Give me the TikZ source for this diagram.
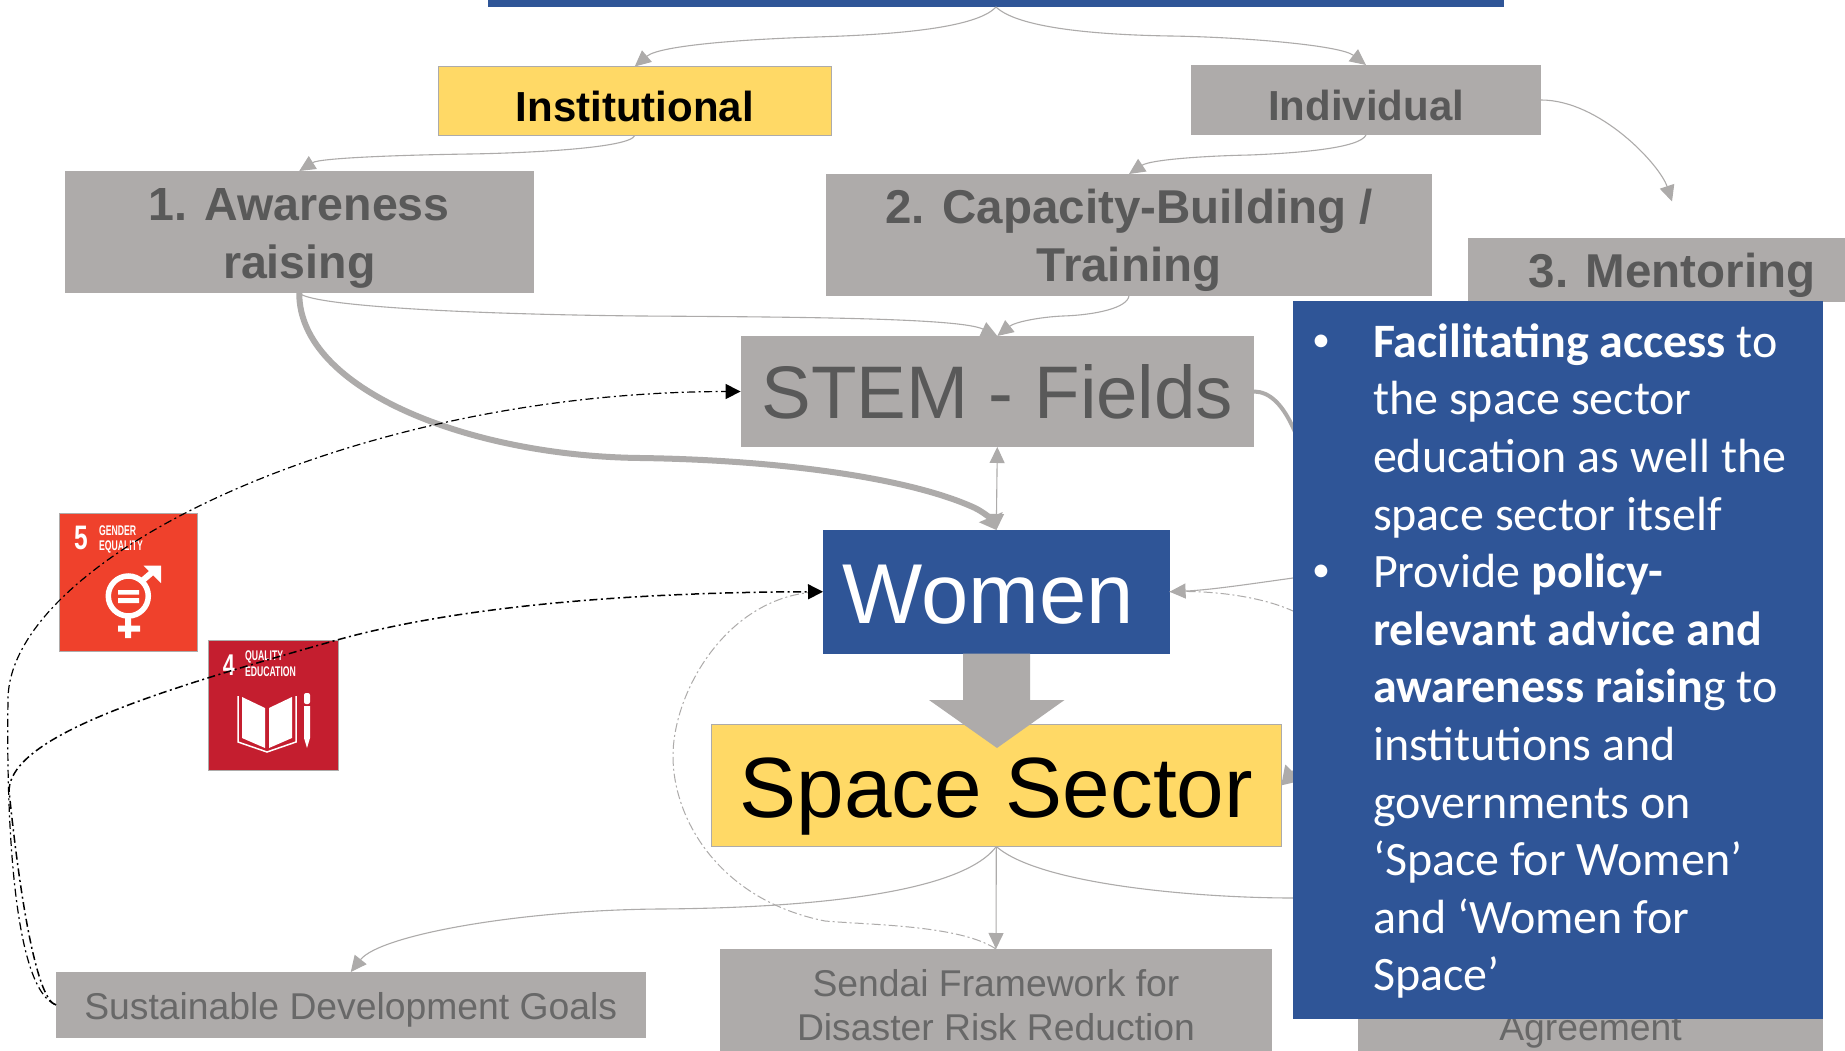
\documentclass[tikz,border=0pt]{standalone}
\usepackage{fontspec}
\setmainfont{Liberation Sans}
\newfontfamily\panelfont{Carlito}
\usetikzlibrary{arrows.meta}
\definecolor{greyfill}{HTML}{AEABAA}
\definecolor{greyline}{HTML}{ADABAA}
\definecolor{greytext}{HTML}{595959}
\definecolor{softtext}{HTML}{686868}
\definecolor{bluefill}{HTML}{2F5597}
\definecolor{yellowfill}{HTML}{FFD966}
\definecolor{sdgred}{HTML}{EF412C}
\definecolor{sdgcrimson}{HTML}{C41E2F}
\newcommand{\fsz}[2]{\fontsize{#1}{#2}\selectfont}
\newcommand{\tall}[1]{\rule{0pt}{#1pt}}
\tikzset{
  basebox/.style={rectangle,inner sep=0pt,outer sep=0pt,align=center},
  greybox/.style={basebox,fill=greyfill,text=greytext},
  softbox/.style={basebox,fill=greyfill,text=softtext,font=\fsz{37.3}{44.5}},
  headbox/.style={basebox,fill=greyfill,text=greytext,font=\fsz{47.5}{57.5}\bfseries},
  yellowbox/.style={basebox,fill=yellowfill,draw=greyline,line width=1pt,text=black},
  bluebox/.style={basebox,fill=bluefill,text=white},
  icon/.style={basebox,draw=greyline,line width=1pt},
  icontext/.style={inner sep=0pt,outer sep=0pt,text=white,font=\bfseries},
  thinlink/.style={draw=greyline,line width=1.1pt,-{Triangle[length=16pt,width=15pt]}},
  thicklink/.style={draw=greyline,line width=6pt,-{Triangle[length=14pt,width=25pt]}},
  midlink/.style={draw=greyline,line width=4pt,-{Triangle[length=18pt,width=22pt]}},
  dashdot/.style={dash pattern=on 8pt off 3.5pt on 2pt off 3.5pt},
  blacklink/.style={draw=black,line width=1.2pt,dashdot,-{Triangle[length=15pt,width=15pt]}},
  greydash/.style={draw=greyline,line width=1pt,dash pattern=on 9pt off 3pt on 2pt off 3pt},
}
\begin{document}
\begin{tikzpicture}[x=1pt,y=-1pt]
\useasboundingbox (0,0) rectangle (1845,1051);
\clip (0,0) rectangle (1845,1051);
\fill[white] (0,0) rectangle (1845,1051);

% boxes
\node[bluebox,minimum width=1016pt,minimum height=17pt] (topbar) at (996,-1.5) {};
\node[yellowbox,minimum width=392.5pt,minimum height=69pt,font=\fsz{42}{50}\bfseries] (inst) at (634.75,101) {\tall{41}Institutional};
\node[headbox,minimum width=350pt,minimum height=70pt,font=\fsz{42}{50}\bfseries] (indiv) at (1366,100) {\tall{41}Individual};
\node[headbox,minimum width=468.5pt,minimum height=122pt,font=\fsz{46.5}{57.5}\bfseries] (aware) at (299.25,232) {\tall{45.3}1. Awareness\\raising};
\node[headbox,minimum width=606pt,minimum height=121.5pt] (capa) at (1129,234.75) {\tall{46}2. Capacity-Building /\\Training};
\node[headbox,minimum width=409pt,minimum height=63.5pt] (mentor) at (1672,269.75) {\tall{46}3. Mentoring};
\node[greybox,minimum width=513.4pt,minimum height=111pt,font=\fsz{74.5}{80}] (stem) at (997.3,391.5) {\tall{55}STEM - Fields};
\node[bluebox,minimum width=346.6pt,minimum height=123.5pt,font=\fsz{85}{90}] (women) at (996.3,591.75) {\tall{65}Women\hspace{16pt}};
\node[yellowbox,minimum width=569.6pt,minimum height=122pt,font=\fsz{85.5}{90}] (space) at (996.3,785.5) {\tall{81}Space Sector};
\node[softbox,minimum width=589.5pt,minimum height=65.6pt] (sdg) at (350.75,1004.8) {\tall{36.4}Sustainable Development Goals};
\node[softbox,minimum width=552pt,minimum height=112pt] (sendai) at (996,1005) {Sendai Framework for\\Disaster Risk Reduction};
\node[softbox,minimum width=465pt,minimum height=94pt] (paris) at (1590.5,1032) {Agreement};

% icons
\node[icon,fill=sdgred,minimum width=138pt,minimum height=137.5pt] (sdgfive) at (128.5,582.25) {};
\node[icontext,font=\fsz{34}{34}\bfseries] (fivenum) at (81,538) {\scalebox{0.72}[1]{5}};
\node[icontext,font=\fsz{14}{14}\bfseries,anchor=west] (fivea) at (99,531) {\scalebox{0.62}[1]{GENDER}};
\node[icontext,font=\fsz{14}{14}\bfseries,anchor=west] (fiveb) at (99,547) {\scalebox{0.62}[1]{EQUALITY}};
\draw[white,line width=5.5pt] (128.3,596) circle (20pt);
\fill[white] (118,590) rectangle (139,594.5) (118,598) rectangle (139,603);
\draw[white,line width=6pt] (128,617) -- (128,638) (118,628.5) -- (140,628.5) (142,581) -- (156,569);
\fill[white] (143.5,565.5) -- (161,565.5) -- (161,583) -- cycle;

\node[icon,fill=sdgcrimson,minimum width=130pt,minimum height=130.5pt] (sdgfour) at (273.5,705.25) {};
\node[icontext,font=\fsz{30}{30}\bfseries] (fournum) at (229,665) {\scalebox{0.72}[1]{4}};
\node[icontext,font=\fsz{14}{14}\bfseries,anchor=west] (foura) at (245,656.5) {\scalebox{0.62}[1]{QUALITY}};
\node[icontext,font=\fsz{14}{14}\bfseries,anchor=west] (fourb) at (245,672) {\scalebox{0.62}[1]{EDUCATION}};
\fill[white] (242,697) -- (265,708) -- (265,748) -- (242,738) -- cycle;
\fill[white] (269,708) -- (292,697) -- (292,738) -- (269,748) -- cycle;
\draw[white,line width=1.5pt] (238,696) -- (238,742) -- (267,752) -- (296,742) -- (296,696);
\fill[white,rounded corners=2pt] (304,693) rectangle (310,704);
\fill[white] (304,706) -- (310,706) -- (310,738) -- (307,748) -- (304,738) -- cycle;

% coordinate for the free end
\coordinate (mentorin) at (1672,201.5);

% thin connectors
\draw[thinlink] (topbar.south) .. controls (975,30) and (880,35) .. (816,37) .. controls (750,39) and (660,45) .. (inst.north);
\draw[thinlink] (topbar.south) .. controls (1020,30) and (1110,35) .. (1170,36) .. controls (1240,37) and (1340,45) .. (indiv.north);
\draw[thinlink] (inst.south) .. controls (630,148) and (530,153) .. (470,154) .. controls (400,155) and (320,158) .. (aware.north);
\draw[thinlink] (indiv.south) .. controls (1360,148) and (1300,153) .. (1250,155) .. controls (1200,156) and (1150,160) .. (capa.north);
\draw[thinlink] (indiv.east) .. controls (1600,100) and (1660,165) .. (mentorin);
\draw[thinlink] (aware.south) .. controls (310,305) and (450,314) .. (640,316) .. controls (800,317) and (960,318) .. (stem.north);
\draw[thinlink] (capa.south) .. controls (1128,308) and (1095,315) .. (1063,316) .. controls (1040,317) and (1015,322) .. (stem.north);
\draw[draw=greyline,line width=1.1pt,{Triangle[length=16pt,width=15pt]}-{Triangle[length=16pt,width=15pt]}] (stem.south) -- (women.north);
\draw[thinlink] (space.south) .. controls (960,895) and (800,908) .. (660,909) .. controls (520,910) and (380,935) .. (sdg.north);
\draw[thinlink] (space.south) -- (sendai.north);
\draw[thinlink] (space.south) .. controls (1040,885) and (1200,898) .. (1293,898) .. controls (1450,898) and (1570,920) .. (paris.north);
\draw[thinlink] (mentor.south) .. controls (1656,480) and (1420,560) .. (1293,578) .. controls (1250,584) and (1210,590) .. (women.east);

% thick connectors
\draw[thicklink] (aware.south) .. controls (299,390) and (470,456) .. (640,458) .. controls (780,460) and (910,478) .. (975,508) .. controls (985,513) and (992,520) .. (women.north);
\draw[midlink] (stem.east) .. controls (1285,392) and (1310,440) .. (1330,590) .. controls (1345,700) and (1320,745) .. (space.east);

% grey dash-dot connectors
\draw[greydash] (sendai.north) .. controls (960,925) and (870,925) .. (825,921) .. controls (720,900) and (673,820) .. (673,756) .. controls (673,690) and (730,592) .. (women.west);
\draw[greydash] (women.east) .. controls (1210,590) and (1260,596) .. (1293,611) .. controls (1450,680) and (1580,800) .. (paris.north);

% block arrow
\fill[greyfill] (963,653.5) -- (1030,653.5) -- (1030,700) -- (1064.5,700) -- (997,748) -- (929,700) -- (963,700) -- cycle;

% black dash-dot connectors
\draw[blacklink] (sdg.west) .. controls (15,990) and (6,830) .. (8,700) .. controls (8,560) and (350,392) .. (stem.west);
\draw[blacklink,line width=1.5pt] (sdg.west) .. controls (35,1000) and (18,880) .. (9,790) .. controls (12,735) and (160,690) .. (337,640) .. controls (480,600) and (680,592) .. (women.west);

% panel
\node[bluebox,minimum width=530pt,minimum height=718pt] (panel) at (1558,660) {};
\node[inner sep=0pt,outer sep=0pt,anchor=north west,align=left,text=white,font=\panelfont\fsz{48}{57.6}] (paneltext) at (1373,323.5) {%
\textbf{Facilitating access} to\\
the space sector\\
education as well the\\
space sector itself\\
Provide \textbf{policy-}\\
\textbf{relevant advice and}\\
\textbf{awareness raisin}g to\\
institutions and\\
governments on\\
‘Space for Women’\\
and ‘Women for\\
Space’};
\node[inner sep=0pt,outer sep=0pt,text=white,font=\panelfont\fsz{36}{36}] (bulletone) at (1321,343) {•};
\node[inner sep=0pt,outer sep=0pt,text=white,font=\panelfont\fsz{36}{36}] (bullettwo) at (1321,573) {•};
\end{tikzpicture}
\end{document}
